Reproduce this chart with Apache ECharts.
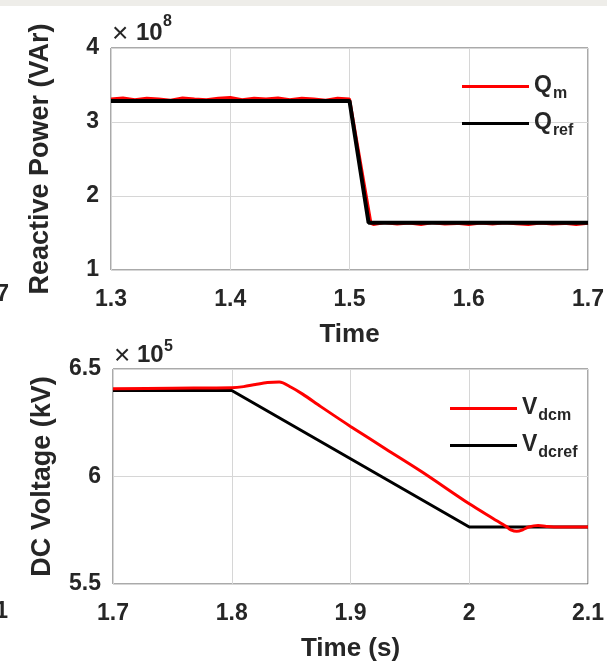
<!DOCTYPE html>
<html>
<head>
<meta charset="utf-8">
<script src="https://cdn.jsdelivr.net/npm/echarts@6/dist/echarts.min.js"></script>
<style>
html,body{margin:0;padding:0;background:#fff;}
#chart{width:607px;height:663px;}
</style>
</head>
<body>
<div id="chart"></div>
<script>
// ---- Top panel: reactive power (x1e8 VAr) ----
const qRefTime = [1.3, 1.5, 1.516, 1.7];
const qRefVals = [3.285, 3.285, 1.64, 1.64];
const qmTime = [1.30,1.31,1.32,1.33,1.34,1.35,1.36,1.37,1.38,1.39,1.40,1.41,1.42,1.43,1.44,1.45,1.46,1.47,1.48,1.49,1.50,
                1.518,1.52,1.53,1.54,1.55,1.56,1.57,1.58,1.59,1.60,1.61,1.62,1.63,1.64,1.65,1.66,1.67,1.68,1.69,1.70];
const qmVals = [3.31,3.325,3.30,3.32,3.31,3.295,3.325,3.31,3.30,3.32,3.33,3.30,3.32,3.31,3.325,3.30,3.32,3.31,3.295,3.32,3.31,
                1.63,1.615,1.64,1.62,1.635,1.615,1.64,1.62,1.63,1.615,1.635,1.62,1.64,1.625,1.615,1.635,1.62,1.63,1.615,1.63];
const qTicksX = [1.3, 1.4, 1.5, 1.6, 1.7];
const qTicksY = [1, 2, 3, 4];

// ---- Bottom panel: DC voltage (x1e5 kV) ----
const vRefTime = [1.7, 1.8, 2.0, 2.1];
const vRefVals = [6.40, 6.40, 5.765, 5.765];
const vmTime = [1.70,1.75,1.80,1.81,1.82,1.83,1.84,1.85,1.86,1.875,1.90,1.93,1.96,2.00,2.02,2.031,2.035,2.04,2.045,2.05,2.058,2.065,2.075,2.10];
const vmVals = [6.408,6.411,6.413,6.418,6.428,6.437,6.439,6.415,6.382,6.325,6.233,6.127,6.022,5.873,5.805,5.768,5.752,5.745,5.752,5.765,5.772,5.768,5.765,5.765];
const vTicksX = [1.7, 1.8, 1.9, 2.0, 2.1];
const vTicksY = [5.5, 6.0, 6.5];

const zip = (a, b) => a.map((t, i) => [t, b[i]]);
const FONT = "'Liberation Sans', Arial, sans-serif";
const TXT = '#262626';

const chart = echarts.init(document.getElementById('chart'), null, {renderer: 'canvas'});

function xAxisCfg(idx, ticks, name, gap) {
  return {
    type: 'value', gridIndex: idx,
    min: ticks[0], max: ticks[ticks.length - 1], interval: 0.1,
    name: name, nameLocation: 'middle', nameGap: gap,
    nameTextStyle: {fontFamily: FONT, fontWeight: 'bold', fontSize: 26, color: TXT},
    axisLine: {show: false}, axisTick: {show: false},
    axisLabel: {margin: 18, fontFamily: FONT, fontWeight: 'bold', fontSize: 23, color: TXT,
      formatter: v => String(Math.round(v * 10) / 10)},
    splitLine: {show: true, lineStyle: {color: '#d6d6d6', width: 1}}
  };
}
function yAxisCfg(idx, ticks, interval, name) {
  return {
    type: 'value', gridIndex: idx,
    min: ticks[0], max: ticks[ticks.length - 1], interval: interval,
    name: name, nameLocation: 'middle', nameGap: 57, nameRotate: 90,
    nameTextStyle: {fontFamily: FONT, fontWeight: 'bold', fontSize: 27, color: TXT},
    axisLine: {show: false}, axisTick: {show: false},
    axisLabel: {margin: 12, fontFamily: FONT, fontWeight: 'bold', fontSize: 23, color: TXT,
      formatter: v => String(Math.round(v * 10) / 10)},
    splitLine: {show: true, lineStyle: {color: '#d6d6d6', width: 1}}
  };
}
function legendCfg(names, left, top) {
  return {
    data: names, orient: 'vertical', left: left, top: top,
    icon: 'rect', itemWidth: 67, itemHeight: 3, itemGap: 6,
    selectedMode: false,
    formatter: n => '{b|' + n.charAt(0) + '}{s|' + n.slice(1) + '}',
    textStyle: {
      rich: {
        b: {fontFamily: FONT, fontWeight: 'bold', fontSize: 23, color: TXT, lineHeight: 24, verticalAlign: 'top', padding: [0,0,0,0]},
        s: {fontFamily: FONT, fontWeight: 'bold', fontSize: 16, color: TXT, lineHeight: 16, padding: [15,0,0,1]}
      }
    }
  };
}

const option = {
  backgroundColor: '#ffffff',
  animation: false,
  grid: [
    {left: 111, top: 48, width: 479, height: 222, show: true, borderColor: '#555', borderWidth: 1, backgroundColor: 'transparent'},
    {left: 113, top: 369, width: 480, height: 217, show: true, borderColor: '#555', borderWidth: 1, backgroundColor: 'transparent'}
  ],
  xAxis: [xAxisCfg(0, qTicksX, 'Time', 52), xAxisCfg(1, vTicksX, 'Time (s)', 52)],
  yAxis: [yAxisCfg(0, qTicksY, 1, 'Reactive Power (VAr)'), yAxisCfg(1, vTicksY, 0.5, 'DC Voltage (kV)')],
  legend: [legendCfg(['Qm', 'Qref'], 457, 66), legendCfg(['Vdcm', 'Vdcref'], 445, 388)],
  series: [
    {name: 'Qm', type: 'line', xAxisIndex: 0, yAxisIndex: 0, data: zip(qmTime, qmVals), showSymbol: false, symbol: 'none',
      lineStyle: {color: '#ff0000', width: 3}, itemStyle: {color: '#ff0000'}, z: 2},
    {name: 'Qref', type: 'line', xAxisIndex: 0, yAxisIndex: 0, data: zip(qRefTime, qRefVals), showSymbol: false, symbol: 'none',
      lineStyle: {color: '#000000', width: 4}, itemStyle: {color: '#000000'}, z: 3},
    {name: 'Vdcref', type: 'line', xAxisIndex: 1, yAxisIndex: 1, data: zip(vRefTime, vRefVals), showSymbol: false, symbol: 'none',
      lineStyle: {color: '#000000', width: 3}, itemStyle: {color: '#000000'}, z: 2},
    {name: 'Vdcm', type: 'line', xAxisIndex: 1, yAxisIndex: 1, data: zip(vmTime, vmVals), showSymbol: false, symbol: 'none', smooth: 0.3,
      lineStyle: {color: '#ff0000', width: 3}, itemStyle: {color: '#ff0000'}, z: 3}
  ],
  graphic: [
    {type: 'rect', shape: {x: 0, y: 0, width: 607, height: 6}, style: {fill: '#eeede9'}, silent: true},
    {type: 'text', style: {text: '×', x: 112, y: 34, font: '28px ' + FONT, fill: TXT, textVerticalAlign: 'middle'}},
    {type: 'text', style: {text: '10', x: 136, y: 33, font: 'bold 24px ' + FONT, fill: TXT, textVerticalAlign: 'middle'}},
    {type: 'text', style: {text: '8', x: 163, y: 22, font: 'bold 16px ' + FONT, fill: TXT, textVerticalAlign: 'middle'}},
    {type: 'text', style: {text: '×', x: 114, y: 356, font: '28px ' + FONT, fill: TXT, textVerticalAlign: 'middle'}},
    {type: 'text', style: {text: '10', x: 137, y: 355, font: 'bold 24px ' + FONT, fill: TXT, textVerticalAlign: 'middle'}},
    {type: 'text', style: {text: '5', x: 164, y: 347, font: 'bold 16px ' + FONT, fill: TXT, textVerticalAlign: 'middle'}},
    {type: 'text', style: {text: '1.7', x: 9, y: 295, font: 'bold 23px ' + FONT, fill: TXT, textAlign: 'right', textVerticalAlign: 'middle'}},
    {type: 'text', style: {text: '2.1', x: 8, y: 612, font: 'bold 23px ' + FONT, fill: TXT, textAlign: 'right', textVerticalAlign: 'middle'}}
  ]
};
chart.setOption(option);
</script>
</body>
</html>
